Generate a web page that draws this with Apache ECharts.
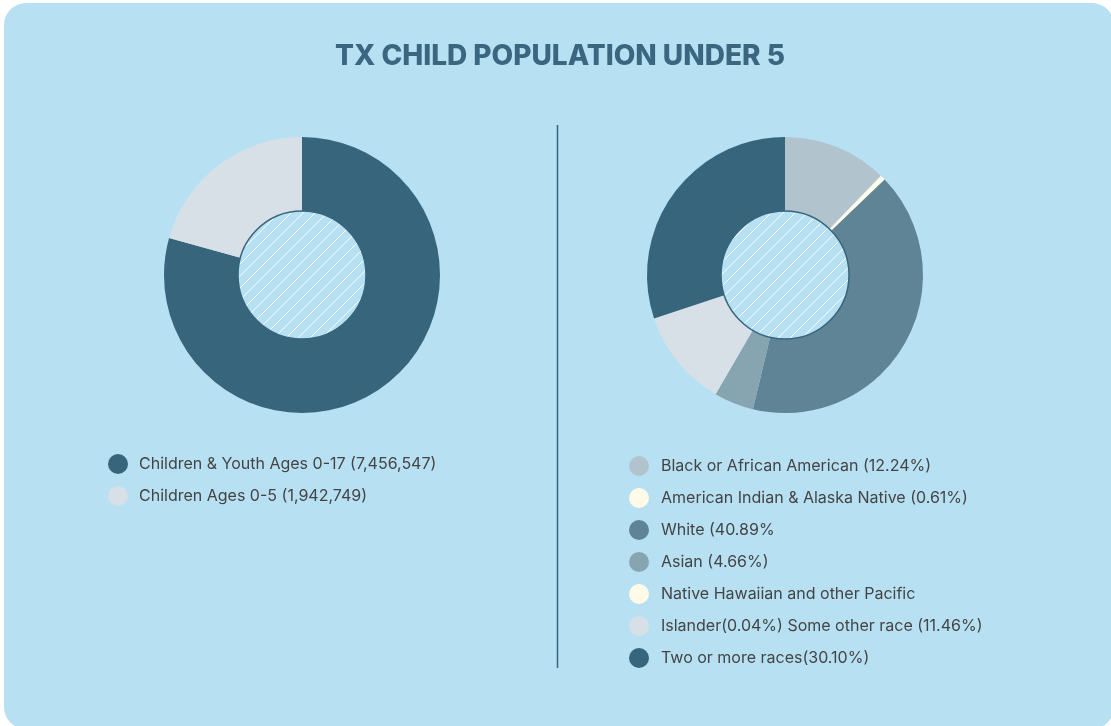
<!DOCTYPE html>
<html><head><meta charset="utf-8">
<script src="https://cdn.jsdelivr.net/npm/echarts@6/dist/echarts.min.js"></script>
<style>html,body{margin:0;padding:0;background:#fff}#c{width:1111px;height:726px}</style>
</head><body><div id="c"></div>
<script>
var title = 'TX CHILD POPULATION UNDER 5';
var ageNames = ['Children & Youth Ages 0-17 (7,456,547)', 'Children Ages 0-5 (1,942,749)'];
var ageValues = [7456547, 1942749];
var ageColors = ['#36657c', '#d8e0e7'];
var raceNames = ['Black or African American (12.24%)', 'American Indian & Alaska Native (0.61%)', 'White (40.89%', 'Asian (4.66%)', 'Native Hawaiian and other Pacific', 'Islander(0.04%) Some other race (11.46%)', 'Two or more races(30.10%)'];
var raceValues = [12.24, 0.61, 40.89, 4.66, 0.04, 11.46, 30.10];
var raceColors = ['#b1c4ce', '#fffbe8', '#5f8496', '#87a4b1', '#fffbe8', '#d8e0e7', '#36657c'];

var bg = '#b7e0f3';
function hatch() {
  var s = 12, cv = document.createElement('canvas');
  cv.width = s; cv.height = s;
  var g = cv.getContext('2d');
  g.fillStyle = bg; g.fillRect(0, 0, s, s);
  g.strokeStyle = 'rgba(255,255,255,0.9)'; g.lineWidth = 1;
  g.beginPath();
  g.moveTo(-1, s + 1); g.lineTo(s + 1, -1);
  g.moveTo(-1, 1); g.lineTo(1, -1);
  g.moveTo(s - 1, s + 1); g.lineTo(s + 1, s - 1);
  g.stroke();
  return {image: cv, repeat: 'repeat'};
}
var pat = hatch();
var font = 'Inter, Roboto, sans-serif';

function donut(center, names, values, colors) {
  return {
    type: 'pie', center: center, radius: [64, 138], startAngle: 90, clockwise: true,
    silent: true, label: {show: false}, labelLine: {show: false},
    data: names.map(function (n, i) { return {name: n, value: values[i], itemStyle: {color: colors[i]}}; })
  };
}
function hole(center) {
  return {
    type: 'pie', center: center, radius: [0, 64], silent: true, z: 5,
    label: {show: false}, labelLine: {show: false},
    data: [{name: 'hole', value: 1, itemStyle: {color: pat, borderColor: '#36657c', borderWidth: 1.5}}]
  };
}
var legendText = {fontFamily: font, fontSize: 16, color: '#444', padding: [0, 0, 0, 6]};

var chart = echarts.init(document.getElementById('c'), null, {renderer: 'canvas'});
chart.setOption({
  animation: false,
  backgroundColor: '#ffffff',
  graphic: [
    {type: 'rect', z: -10, shape: {x: 4, y: 3, width: 1110, height: 726, r: 22}, style: {fill: bg}},
    {type: 'line', shape: {x1: 557.5, y1: 125, x2: 557.5, y2: 668}, style: {stroke: '#36657c', lineWidth: 1.5}}
  ],
  title: {
    text: title, left: 330, top: 38,
    textStyle: {fontFamily: font, fontWeight: 800, fontSize: 28, color: '#3a6680'}
  },
  legend: [
    {data: ageNames, orient: 'vertical', left: 103, top: 449, itemWidth: 20, itemHeight: 20, itemGap: 12,
     icon: 'circle', selectedMode: false, textStyle: legendText},
    {data: raceNames, orient: 'vertical', left: 624, top: 451, itemWidth: 20, itemHeight: 20, itemGap: 12,
     icon: 'circle', selectedMode: false, textStyle: Object.assign({}, legendText, {padding: [0, 0, 0, 7]})}
  ],
  series: [
    donut([302, 275], ageNames, ageValues, ageColors), hole([302, 275]),
    donut([785, 275], raceNames, raceValues, raceColors), hole([785, 275])
  ]
});
</script></body></html>
